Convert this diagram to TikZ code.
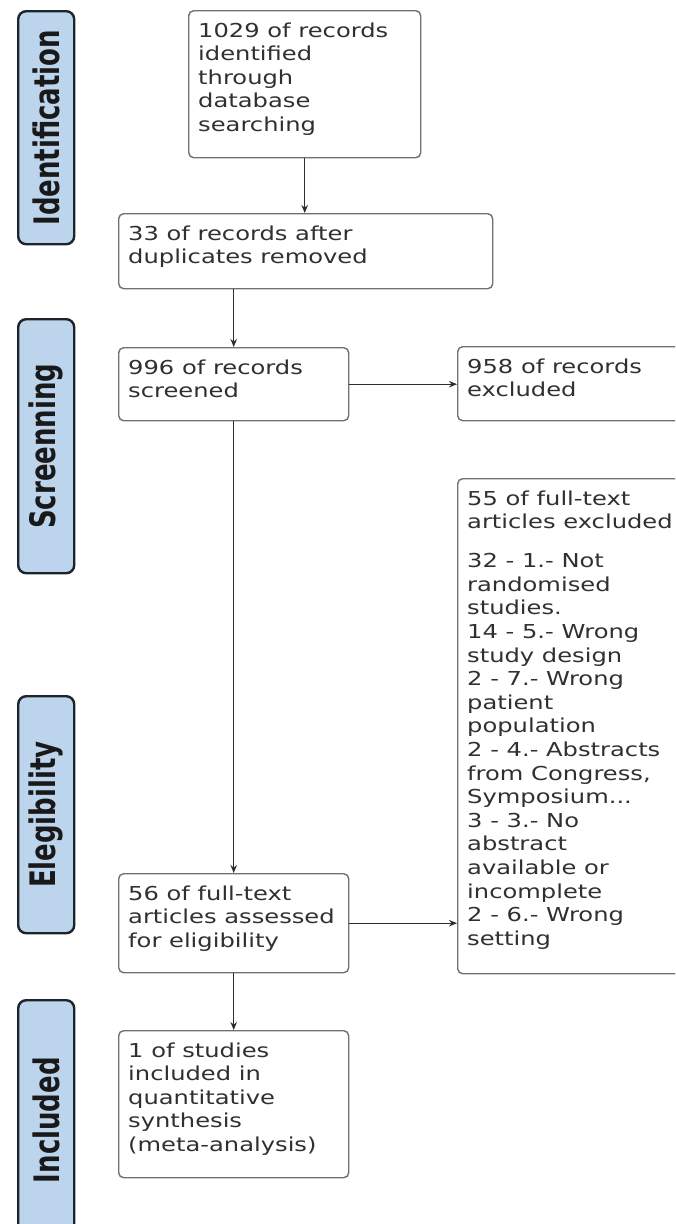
\documentclass[tikz,border=0pt]{standalone}
\usepackage{fontspec}
\usepackage{graphicx}
\newfontfamily\boxfont{DejaVu Sans}[FakeStretch=1.26]
\newfontfamily\tabfont{DejaVu Sans}
\usetikzlibrary{arrows.meta}
\definecolor{tabblue}{RGB}{188,212,236}
\definecolor{tabline}{RGB}{30,36,44}
\definecolor{boxline}{RGB}{112,112,112}
\definecolor{txtgray}{RGB}{48,48,48}
\definecolor{arrowgray}{RGB}{45,45,45}
\newcommand\stagelabel[1]{\rotatebox{90}{\scalebox{1}[1.35]{\tabfont\bfseries\fontsize{26}{30}\selectfont #1}}}
\newcommand\flowlines[1]{\parbox[t]{320pt}{#1}}
\begin{document}
\begin{tikzpicture}[x=1pt,y=-1pt,
  stagebox/.style={draw=tabline, line width=2.4pt, rounded corners=8pt, fill=tabblue,
    anchor=north west, inner sep=0pt, minimum width=56pt, text=black!90},
  flowbox/.style={draw=boxline, line width=1.4pt, rounded corners=5pt, fill=white,
    anchor=north west, inner sep=0pt},
  flowtext/.style={anchor=base west, inner sep=0pt, text=txtgray,
    font=\boxfont\fontsize{19.2}{23.6}\selectfont},
  conn/.style={draw=arrowgray, line width=1.3pt, -{Stealth[length=8pt,width=6.5pt]}}
]
\useasboundingbox (0,0) rectangle (675,1224);
\clip (0,0) rectangle (675,1224);

% stage tabs
\node[stagebox, minimum height=233pt] (s1) at (17,10) {\stagelabel{Identification}};
\node[stagebox, minimum height=254pt] (s2) at (17,318) {\stagelabel{Screenning}};
\node[stagebox, minimum height=237pt] (s3) at (17,695) {\stagelabel{Elegibility}};
\node[stagebox, minimum height=240pt] (s4) at (17,999) {\stagelabel{Included}};

% boxes
\node[flowbox, minimum width=232pt, minimum height=147pt] (b1) at (188,10) {};
\node[flowbox, minimum width=374pt, minimum height=75pt] (b2) at (118,213) {};
\node[flowbox, minimum width=230pt, minimum height=73pt] (b3) at (118,347) {};
\node[flowbox, minimum width=240pt, minimum height=74pt] (b4) at (457,346) {};
\node[flowbox, minimum width=240pt, minimum height=495pt] (b5) at (457,478) {};
\node[flowbox, minimum width=230pt, minimum height=99pt] (b6) at (118,873) {};
\node[flowbox, minimum width=230pt, minimum height=147pt] (b7) at (118,1030) {};

% texts
\node[flowtext] (t1) at ([xshift=10pt,yshift=-27pt]b1.north west)
  {\flowlines{1029 of records\\identified\\through\\database\\searching}};
\node[flowtext] (t2) at ([xshift=10pt,yshift=-27pt]b2.north west)
  {\flowlines{33 of records after\\duplicates removed}};
\node[flowtext] (t3) at ([xshift=10pt,yshift=-27pt]b3.north west)
  {\flowlines{996 of records\\screened}};
\node[flowtext] (t4) at ([xshift=10pt,yshift=-27pt]b4.north west)
  {\flowlines{958 of records\\excluded}};
\node[flowtext] (t5) at ([xshift=10pt,yshift=-27pt]b5.north west)
  {\flowlines{55 of full-text\\articles excluded\\[15.5pt]32 - 1.- Not\\randomised\\studies.\\14 - 5.- Wrong\\study design\\2 - 7.- Wrong\\patient\\population\\2 - 4.- Abstracts\\from Congress,\\Symposium...\\3 - 3.- No\\abstract\\available or\\incomplete\\2 - 6.- Wrong\\setting}};
\node[flowtext] (t6) at ([xshift=10pt,yshift=-27pt]b6.north west)
  {\flowlines{56 of full-text\\articles assessed\\for eligibility}};
\node[flowtext] (t7) at ([xshift=10pt,yshift=-27pt]b7.north west)
  {\flowlines{1 of studies\\included in\\quantitative\\synthesis\\(meta-analysis)}};

% connectors
\draw[conn] (b1.south) -- (b1.south |- b2.north);
\draw[conn] (b3.north |- b2.south) -- (b3.north);
\draw[conn] (b3.east) -- (b3.east -| b4.west);
\draw[conn] (b3.south) -- (b6.north);
\draw[conn] (b6.east) -- (b6.east -| b5.west);
\draw[conn] (b6.south) -- (b7.north);
\end{tikzpicture}
\end{document}
